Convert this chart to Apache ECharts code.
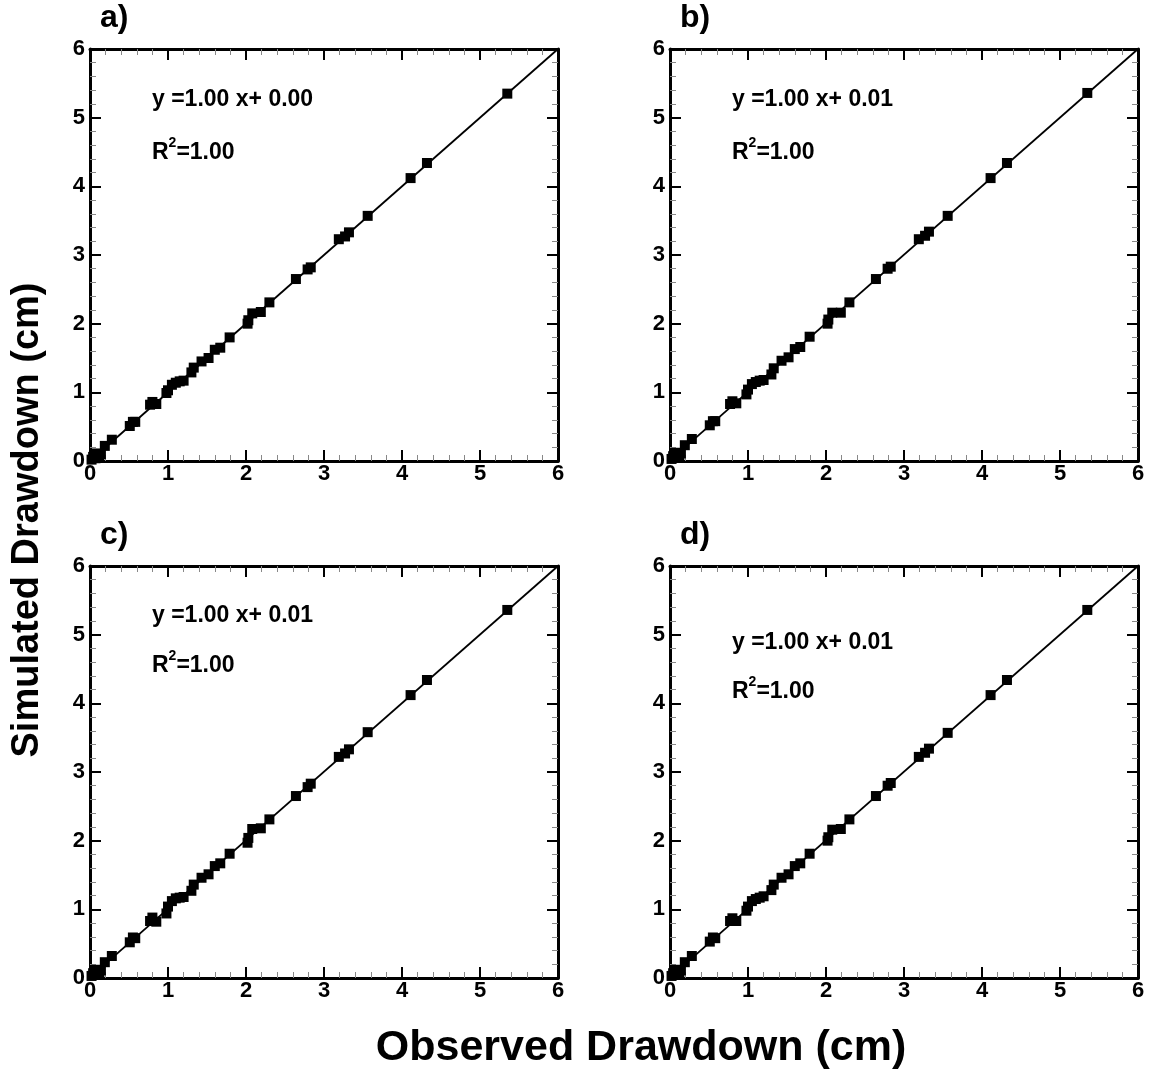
<!DOCTYPE html>
<html>
<head>
<meta charset="utf-8">
<script src="https://cdn.jsdelivr.net/npm/echarts@6/dist/echarts.min.js"></script>
<style>
  html, body { margin: 0; padding: 0; background: #fff; }
  #chart { width: 1152px; height: 1072px; }
</style>
</head>
<body>
<div id="chart"></div>
<script>
// Observed vs simulated drawdown (cm) for four model runs
const panelLabels = ['a)', 'b)', 'c)', 'd)'];
const fitSlope = [1.00, 1.00, 1.00, 1.00];
const fitIntercept = [0.00, 0.01, 0.01, 0.01];
const fitR2 = [1.00, 1.00, 1.00, 1.00];
const axisTicks = [0, 1, 2, 3, 4, 5, 6];

const observedA = [0.02, 0.04, 0.07, 0.10, 0.12, 0.14, 0.08, 0.19, 0.28, 0.51, 0.55, 0.58, 0.77, 0.80, 0.85, 0.98, 1.00, 1.05, 1.10, 1.15, 1.20, 1.30, 1.33, 1.43, 1.52, 1.60, 1.67, 1.79, 2.02, 2.03, 2.08, 2.19, 2.30, 2.64, 2.79, 2.83, 3.19, 3.27, 3.32, 3.56, 4.11, 4.32, 5.35];
const simulatedA = [0.02, 0.06, 0.04, 0.08, 0.05, 0.10, 0.11, 0.22, 0.31, 0.51, 0.57, 0.57, 0.82, 0.86, 0.83, 0.99, 1.03, 1.11, 1.14, 1.16, 1.17, 1.29, 1.36, 1.45, 1.50, 1.62, 1.65, 1.80, 2.00, 2.05, 2.15, 2.17, 2.31, 2.65, 2.79, 2.82, 3.23, 3.27, 3.33, 3.57, 4.12, 4.34, 5.35];

const observedB = [0.02, 0.04, 0.07, 0.10, 0.12, 0.14, 0.08, 0.19, 0.28, 0.51, 0.55, 0.58, 0.77, 0.80, 0.85, 0.98, 1.00, 1.05, 1.10, 1.15, 1.20, 1.30, 1.33, 1.43, 1.52, 1.60, 1.67, 1.79, 2.02, 2.03, 2.08, 2.19, 2.30, 2.64, 2.79, 2.83, 3.19, 3.27, 3.32, 3.56, 4.11, 4.32, 5.35];
const simulatedB = [0.03, 0.07, 0.05, 0.09, 0.06, 0.11, 0.12, 0.23, 0.32, 0.52, 0.58, 0.58, 0.83, 0.87, 0.84, 0.97, 1.04, 1.12, 1.15, 1.17, 1.18, 1.26, 1.35, 1.46, 1.51, 1.63, 1.66, 1.81, 2.00, 2.06, 2.16, 2.16, 2.31, 2.65, 2.80, 2.83, 3.23, 3.28, 3.34, 3.57, 4.12, 4.34, 5.36];

const observedC = [0.02, 0.04, 0.07, 0.10, 0.12, 0.14, 0.08, 0.19, 0.28, 0.51, 0.55, 0.58, 0.77, 0.80, 0.85, 0.98, 1.00, 1.05, 1.10, 1.15, 1.20, 1.30, 1.33, 1.43, 1.52, 1.60, 1.67, 1.79, 2.02, 2.03, 2.08, 2.19, 2.30, 2.64, 2.79, 2.83, 3.19, 3.27, 3.32, 3.56, 4.11, 4.32, 5.35];
const simulatedC = [0.03, 0.07, 0.05, 0.09, 0.06, 0.11, 0.12, 0.23, 0.32, 0.52, 0.59, 0.58, 0.83, 0.88, 0.82, 0.94, 1.04, 1.12, 1.16, 1.17, 1.18, 1.27, 1.36, 1.46, 1.51, 1.63, 1.67, 1.81, 1.97, 2.04, 2.17, 2.18, 2.31, 2.65, 2.78, 2.83, 3.22, 3.27, 3.33, 3.58, 4.12, 4.34, 5.36];

const observedD = [0.02, 0.04, 0.07, 0.10, 0.12, 0.14, 0.08, 0.19, 0.28, 0.51, 0.55, 0.58, 0.77, 0.80, 0.85, 0.98, 1.00, 1.05, 1.10, 1.15, 1.20, 1.30, 1.33, 1.43, 1.52, 1.60, 1.67, 1.79, 2.02, 2.03, 2.08, 2.19, 2.30, 2.64, 2.79, 2.83, 3.19, 3.27, 3.32, 3.56, 4.11, 4.32, 5.35];
const simulatedD = [0.03, 0.07, 0.05, 0.09, 0.06, 0.11, 0.12, 0.23, 0.32, 0.53, 0.59, 0.58, 0.83, 0.87, 0.83, 0.98, 1.04, 1.12, 1.15, 1.17, 1.19, 1.28, 1.36, 1.46, 1.51, 1.63, 1.67, 1.81, 2.00, 2.05, 2.16, 2.17, 2.31, 2.65, 2.80, 2.84, 3.22, 3.28, 3.34, 3.57, 4.12, 4.34, 5.36];

const observedSets = [observedA, observedB, observedC, observedD];
const simulatedSets = [simulatedA, simulatedB, simulatedC, simulatedD];

const FONT = '"Liberation Sans", Arial, sans-serif';
const gridBoxes = [
  { left: 90, top: 49 },
  { left: 670, top: 49 },
  { left: 90, top: 566 },
  { left: 670, top: 566 }
];
const GW = 468, GH = 412;
const eqPos = [
  { x: 152, yEq: 102, yR: 155 },
  { x: 732, yEq: 102, yR: 155 },
  { x: 152, yEq: 618, yR: 668 },
  { x: 732, yEq: 645, yR: 694 }
];

const grids = [], xAxes = [], yAxes = [], series = [], graphics = [];

function axisBase(showLabels, position, gridIndex, labelSize, labelMargin) {
  return {
    gridIndex, position, type: 'value', min: axisTicks[0], max: axisTicks[axisTicks.length - 1], interval: 1,
    axisLine: { show: true, onZero: false, lineStyle: { color: '#000', width: 3 } },
    axisTick: { show: true, inside: true, length: 11, lineStyle: { color: '#000', width: 2 } },
    minorTick: { show: true, splitNumber: 5, length: 6, lineStyle: { color: '#888', width: 1 } },
    splitLine: { show: false },
    axisLabel: {
      show: showLabels, margin: labelMargin,
      color: '#000', fontFamily: FONT, fontWeight: 'bold', fontSize: labelSize
    }
  };
}

gridBoxes.forEach((g, i) => {
  grids.push({ left: g.left, top: g.top, width: GW, height: GH, containLabel: false });
  xAxes.push(axisBase(true, 'bottom', i, 22, 2), axisBase(false, 'top', i, 22, 2));
  yAxes.push(axisBase(true, 'left', i, 22, 5), axisBase(false, 'right', i, 22, 5));
  const xi = i * 2, yi = i * 2;

  // fitted line y = slope * x + intercept across the axis range
  const x0 = axisTicks[0], x1 = axisTicks[axisTicks.length - 1];
  series.push({
    type: 'line', xAxisIndex: xi, yAxisIndex: yi, silent: true,
    symbol: 'none', z: 2,
    lineStyle: { color: '#000', width: 1.8 },
    data: [[x0, fitSlope[i] * x0 + fitIntercept[i]], [x1, Math.min(x1, fitSlope[i] * x1 + fitIntercept[i])]]
  });
  series.push({
    type: 'scatter', xAxisIndex: xi, yAxisIndex: yi, symbol: 'rect', symbolSize: 10, z: 3,
    itemStyle: { color: '#000', opacity: 1 },
    data: observedSets[i].map((v, k) => [v, simulatedSets[i][k]])
  });

  graphics.push({
    type: 'text', left: g.left + 10, top: g.top - 47,
    style: { text: panelLabels[i], font: 'bold 32px ' + FONT, fill: '#000' }
  });
  graphics.push({
    type: 'text', left: eqPos[i].x, top: eqPos[i].yEq - 14,
    style: {
      text: 'y =' + fitSlope[i].toFixed(2) + ' x+ ' + fitIntercept[i].toFixed(2),
      font: 'bold 23px ' + FONT, fill: '#000'
    }
  });
  graphics.push({
    type: 'text', left: eqPos[i].x, top: eqPos[i].yR - 19,
    style: {
      text: '{b|R}{s|2}{b|=' + fitR2[i].toFixed(2) + '}',
      rich: {
        b: { font: 'bold 23px ' + FONT, fill: '#000', verticalAlign: 'bottom', lineHeight: 28 },
        s: { font: 'bold 14px ' + FONT, fill: '#000', verticalAlign: 'top', lineHeight: 28, padding: [0, 0, 12, 0] }
      }
    }
  });
});

graphics.push({
  type: 'text', x: 641, y: 1048,
  style: { text: 'Observed Drawdown (cm)', font: 'bold 43px ' + FONT, fill: '#000', align: 'center', verticalAlign: 'middle' }
});
graphics.push({
  type: 'text', x: 28, y: 520, rotation: Math.PI / 2,
  style: { text: 'Simulated Drawdown (cm)', font: 'bold 38px ' + FONT, fill: '#000', align: 'center', verticalAlign: 'middle' }
});

const chart = echarts.init(document.getElementById('chart'), null, { renderer: 'canvas' });
chart.setOption({
  animation: false,
  backgroundColor: '#fff',
  textStyle: { fontFamily: FONT },
  grid: grids,
  xAxis: xAxes,
  yAxis: yAxes,
  series,
  graphic: graphics
});
</script>
</body>
</html>
